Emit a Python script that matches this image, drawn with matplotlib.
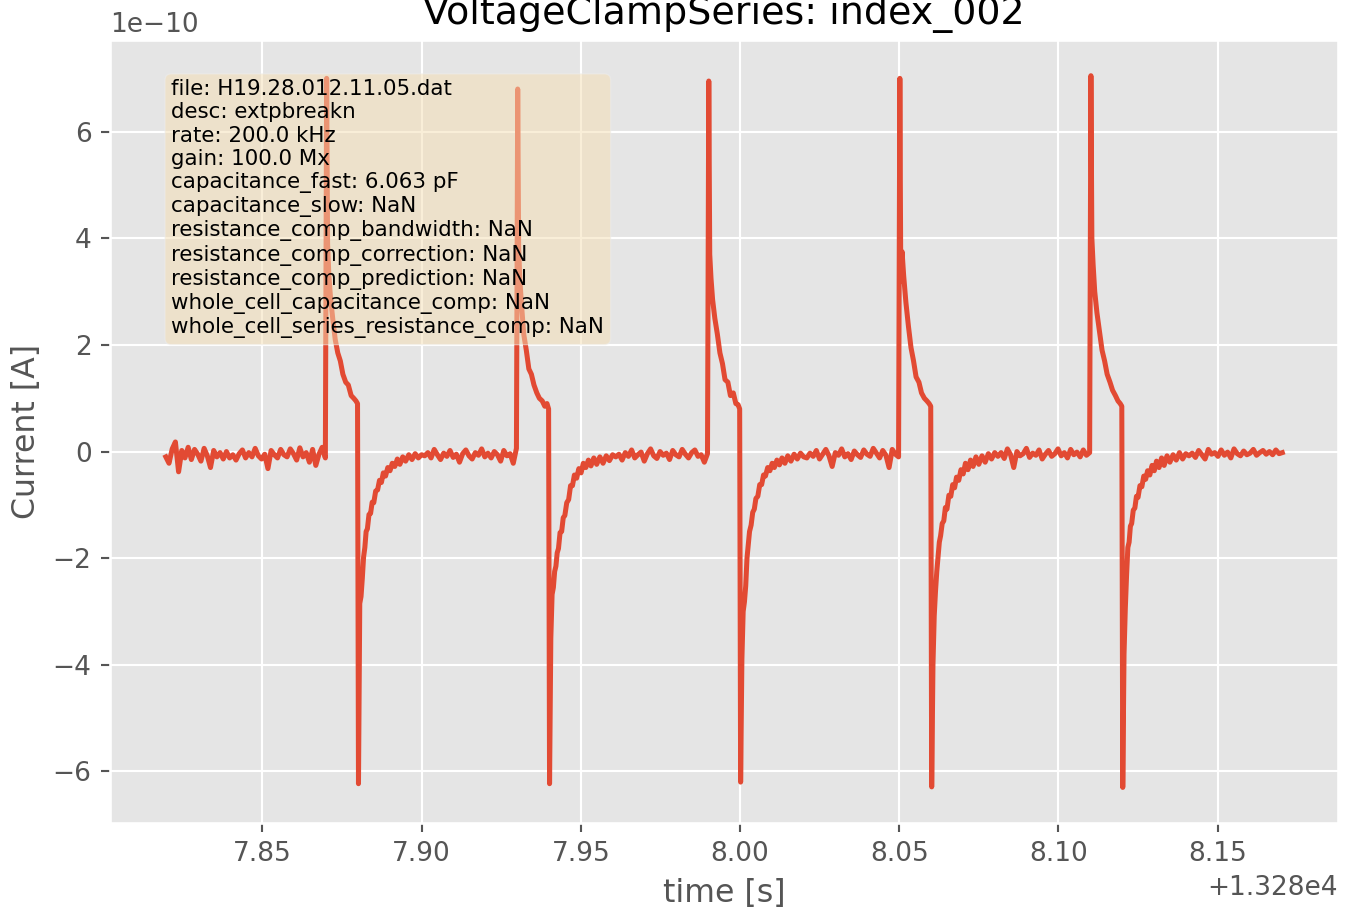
import numpy as np
import matplotlib
matplotlib.use("Agg")
import matplotlib.pyplot as plt

plt.style.use("ggplot")

# time origin and pulse timing [s]
t_base = 13280.0
onsets = [7.87, 7.93, 7.99, 8.05, 8.11]
pulse_len = 0.0100
t_start = 7.8197
t_end = 8.1703

# offsets after pulse onset (on phase) and after pulse end (recovery)
on_dt = [0.0002, 0.0005, 0.0009, 0.0014, 0.0021, 0.0029, 0.0037, 0.0045,
         0.0053, 0.0062, 0.0070, 0.0079, 0.0087, 0.0094, 0.0099]
rec_dt = [0.0002, 0.0006, 0.0010, 0.0014, 0.0018, 0.0022, 0.0026, 0.0030,
          0.0035, 0.0040, 0.0045, 0.0050, 0.0056, 0.0062, 0.0068, 0.0074,
          0.0080, 0.0087, 0.0094, 0.0101, 0.0108, 0.0116, 0.0124, 0.0132,
          0.0141, 0.0150, 0.0160, 0.0170, 0.0180, 0.0190, 0.0200]

# current, in units of 1e-10 A
on1 = [7.00, 3.9, 3.3, 2.9, 2.5, 2.1, 1.85, 1.7, 1.45, 1.3, 1.25, 1.05, 1.0, 0.95, 0.9]
on2 = [6.80, 3.8, 3.2, 2.75, 2.2, 1.9, 1.55, 1.45, 1.25, 1.1, 1.0, 0.95, 0.85, 0.9, 0.8]
on3 = [6.95, 3.7, 3.25, 2.85, 2.5, 2.2, 1.85, 1.65, 1.35, 1.3, 1.05, 1.1, 0.9, 0.88, 0.8]
on4 = [7.00, 3.2, 3.75, 3.3, 2.8, 2.35, 1.95, 1.7, 1.4, 1.3, 1.1, 1.0, 0.95, 0.9, 0.85]
on5 = [7.05, 4.0, 3.5, 3.0, 2.6, 2.25, 1.9, 1.7, 1.45, 1.3, 1.15, 1.05, 0.95, 0.9, 0.85]

rec1 = [-6.23, -2.85, -2.72, -2.38, -1.98, -1.80, -1.50, -1.45, -1.18, -1.16, -0.95,
        -0.96, -0.74, -0.72, -0.54, -0.58, -0.40, -0.46, -0.30, -0.36, -0.22, -0.28,
        -0.14, -0.24, -0.10, -0.18, -0.06, -0.15, -0.04, -0.12, -0.06]
rec2 = [-6.23, -3.5, -2.68, -2.55, -2.25, -2.15, -1.90, -1.82, -1.52, -1.50, -1.24,
        -1.20, -0.96, -0.90, -0.64, -0.64, -0.44, -0.50, -0.32, -0.40, -0.22, -0.30,
        -0.16, -0.27, -0.12, -0.24, -0.10, -0.22, -0.08, -0.17, -0.06]
rec3 = [-6.20, -3.9, -3.0, -2.82, -2.52, -2.00, -1.74, -1.50, -1.38, -1.14, -1.08,
        -0.88, -0.84, -0.62, -0.62, -0.44, -0.46, -0.30, -0.36, -0.22, -0.30, -0.16,
        -0.25, -0.12, -0.22, -0.08, -0.18, -0.05, -0.14, -0.03, -0.10]
rec4 = [-6.29, -4.0, -3.08, -2.62, -2.25, -1.98, -1.70, -1.58, -1.35, -1.30, -1.05,
        -1.08, -0.82, -0.84, -0.62, -0.68, -0.48, -0.54, -0.34, -0.42, -0.22, -0.34,
        -0.16, -0.28, -0.10, -0.24, -0.08, -0.20, -0.04, -0.14, -0.02]
rec5 = [-6.30, -3.8, -2.95, -2.32, -1.80, -1.70, -1.40, -1.35, -1.10, -1.06, -0.84,
        -0.86, -0.64, -0.66, -0.46, -0.52, -0.36, -0.44, -0.26, -0.36, -0.18, -0.30,
        -0.12, -0.26, -0.08, -0.20, -0.06, -0.16, -0.02, -0.14, -0.04]

# holding current between pulses
base0 = [-0.10, -0.22, 0.05, 0.18, -0.38, 0.02, -0.12, 0.08, -0.15, 0.04, -0.05,
         -0.18, 0.06, -0.08, -0.30, 0.02, -0.10, -0.02, -0.14, 0.00, -0.12, -0.06,
         -0.16, -0.04, 0.03, -0.12, -0.02, -0.10, 0.06, -0.08, -0.14, -0.05, -0.32,
         0.02, -0.06, -0.12, 0.04, -0.06, -0.10, 0.05, -0.04, -0.16, 0.07, -0.10,
         -0.02, -0.20, 0.04, -0.26, -0.05, 0.08, -0.12]
gap1 = [-0.08, -0.02, -0.12, 0.04, -0.06, -0.15, -0.03, -0.09, 0.02, -0.11, -0.05,
        -0.20, -0.04, 0.03, -0.08, -0.14, -0.02, -0.07, 0.05, -0.10, -0.03, -0.12,
        0.00, -0.06, -0.18, 0.02, -0.08, -0.04, -0.22, 0.06]
gap2 = [-0.10, -0.05, -0.16, -0.02, -0.09, 0.03, -0.12, -0.06, -0.01, -0.18, -0.04,
        0.05, -0.08, -0.13, 0.00, -0.07, -0.03, -0.15, 0.02, -0.06, -0.10, 0.04,
        -0.05, -0.12, -0.02, 0.03, -0.09, -0.06, -0.20, -0.04]
gap3 = [-0.12, -0.03, -0.09, 0.02, -0.14, -0.05, 0.04, -0.08, -0.28, -0.02, -0.07,
        0.05, -0.10, -0.04, -0.15, 0.01, -0.06, -0.11, 0.03, -0.05, -0.09, 0.06,
        -0.03, -0.12, 0.02, -0.07, -0.30, 0.04, -0.05, -0.10]
gap4 = [-0.09, -0.02, -0.13, 0.05, -0.06, -0.30, 0.00, -0.08, -0.04, 0.06, -0.11,
        -0.03, -0.07, 0.03, -0.14, -0.05, 0.02, -0.09, -0.04, 0.05, -0.08, -0.02,
        -0.12, 0.04, -0.06, -0.01, -0.10, 0.03, -0.07, -0.02]
gap5 = [-0.08, -0.03, -0.11, 0.02, -0.06, -0.14, 0.04, -0.05, -0.02, -0.09, 0.03,
        -0.07, -0.01, -0.12, 0.05, -0.04, -0.08, 0.01, -0.06, -0.03, 0.04, -0.07,
        -0.02, 0.02, -0.05, 0.00, -0.06, 0.03, -0.04, -0.02]

info = [
    "file: H19.28.012.11.05.dat",
    "desc: extpbreakn",
    "rate: 200.0 kHz",
    "gain: 100.0 Mx",
    "capacitance_fast: 6.063 pF",
    "capacitance_slow: NaN",
    "resistance_comp_bandwidth: NaN",
    "resistance_comp_correction: NaN",
    "resistance_comp_prediction: NaN",
    "whole_cell_capacitance_comp: NaN",
    "whole_cell_series_resistance_comp: NaN",
]

on_vals = [on1, on2, on3, on4, on5]
rec_vals = [rec1, rec2, rec3, rec4, rec5]
gaps = [gap1, gap2, gap3, gap4, gap5]

# stitch the sweep together
t_parts = [np.linspace(t_start, onsets[0] - 0.0002, len(base0))]
i_parts = [np.array(base0)]
for k, t0 in enumerate(onsets):
    t_parts.append(t0 + np.array(on_dt))
    i_parts.append(np.array(on_vals[k]))
    t_parts.append(t0 + pulse_len + np.array(rec_dt))
    i_parts.append(np.array(rec_vals[k]))
    g0 = t0 + pulse_len + rec_dt[-1] + 0.001
    g1 = onsets[k + 1] - 0.0002 if k + 1 < len(onsets) else t_end
    t_parts.append(np.linspace(g0, g1, len(gaps[k])))
    i_parts.append(np.array(gaps[k]))

time = t_base + np.concatenate(t_parts)
current = np.concatenate(i_parts) * 1e-10

fig, ax = plt.subplots(figsize=(1353 / 190, 912 / 190), dpi=190)
fig.subplots_adjust(left=0.0813, right=0.989, bottom=0.0976, top=0.956)

ax.plot(time, current, linewidth=1.9)
ax.set_title("VoltageClampSeries: index_002")
ax.set_xlabel("time [s]")
ax.set_ylabel("Current [A]")

ax.text(0.05, 0.95, "\n".join(info), transform=ax.transAxes, fontsize=8.1,
        verticalalignment="top",
        bbox=dict(boxstyle="round", facecolor="wheat", alpha=0.5))

fig.savefig("out.png", dpi=190)
